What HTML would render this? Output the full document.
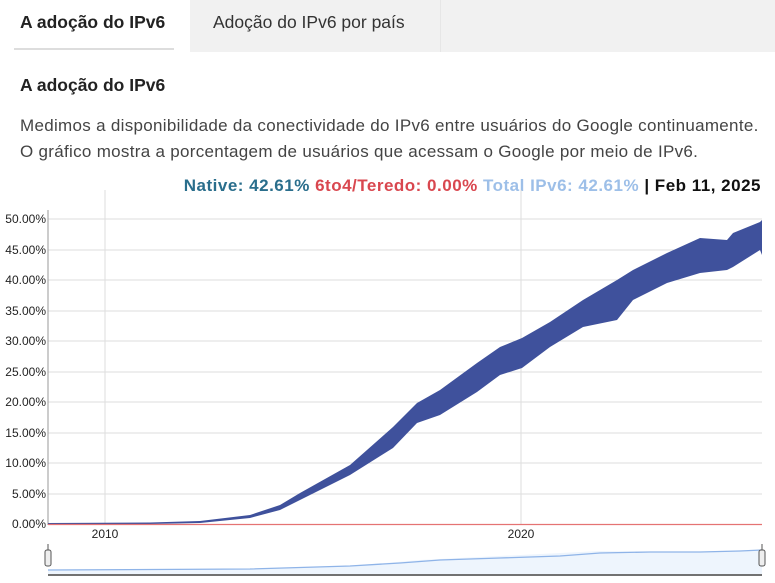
<!DOCTYPE html>
<html><head><meta charset="utf-8"><style>
body{margin:0;width:775px;height:583px;background:#fff;font-family:"Liberation Sans",sans-serif;overflow:hidden;position:relative}
.tabs{position:absolute;left:0;top:0;width:775px;height:52px;background:#f1f1f1}
.t1{position:absolute;left:0;top:0;width:190px;height:52px;background:#fff;font-size:17.5px;font-weight:bold;color:#222;line-height:44px;padding-left:20px;box-sizing:border-box;white-space:nowrap}
.t1 i{position:absolute;left:14px;right:16px;bottom:2px;height:2px;background:#ddd}
.t2{position:absolute;left:213px;top:0;font-size:17.5px;color:#333;line-height:44px}
.sep{position:absolute;left:440px;top:0;width:1px;height:52px;background:#e6e6e6}
h3{position:absolute;left:20px;top:75px;margin:0;font-size:17.5px;color:#222}
p{position:absolute;left:20px;top:113px;margin:0;font-size:17px;letter-spacing:0.3px;color:#444;line-height:26px;white-space:nowrap}
.leg{position:absolute;right:14px;top:176px;font-size:17px;letter-spacing:0.5px;font-weight:bold;white-space:nowrap}
</style></head><body>
<div class="tabs"><div class="t1">A adoção do IPv6<i></i></div><div class="t2">Adoção do IPv6 por país</div><div class="sep"></div></div>
<h3>A adoção do IPv6</h3>
<p>Medimos a disponibilidade da conectividade do IPv6 entre usuários do Google continuamente.<br>O gráfico mostra a porcentagem de usuários que acessam o Google por meio de IPv6.</p>
<div class="leg"><span style="color:#2a6e8c">Native: 42.61%</span> <span style="color:#d9474f">6to4/Teredo: 0.00%</span> <span style="color:#9dbfe8">Total IPv6: 42.61%</span> <span style="color:#111">| Feb 11, 2025</span></div>
<svg width="775" height="583" style="position:absolute;left:0;top:0" font-family="Liberation Sans" font-size="12" fill="#222">
<g stroke="#ddd" stroke-width="1">
<line x1="48" x2="762" y1="219" y2="219"/><line x1="48" x2="762" y1="250" y2="250"/><line x1="48" x2="762" y1="280" y2="280"/><line x1="48" x2="762" y1="311" y2="311"/><line x1="48" x2="762" y1="341" y2="341"/><line x1="48" x2="762" y1="372" y2="372"/><line x1="48" x2="762" y1="402" y2="402"/><line x1="48" x2="762" y1="433" y2="433"/><line x1="48" x2="762" y1="463" y2="463"/><line x1="48" x2="762" y1="494" y2="494"/>
<line x1="105" x2="105" y1="190" y2="524"/><line x1="521" x2="521" y1="190" y2="524"/>
</g>
<line x1="48" x2="48" y1="210" y2="525" stroke="#999"/>
<g text-anchor="end">
<text x="46" y="223">50.00%</text><text x="46" y="254">45.00%</text><text x="46" y="284">40.00%</text><text x="46" y="315">35.00%</text><text x="46" y="345">30.00%</text><text x="46" y="376">25.00%</text><text x="46" y="406">20.00%</text><text x="46" y="437">15.00%</text><text x="46" y="467">10.00%</text><text x="46" y="498">5.00%</text><text x="46" y="528">0.00%</text>
</g>
<text x="105" y="538" text-anchor="middle">2010</text><text x="521" y="538" text-anchor="middle">2020</text>
<polygon fill="#3f519c" points="48,523 150,522.5 200,521 250,515 280,505 300,493 350,465 393,427 417,403 440,390 477,363 500,347 522,338 550,322 583,300 617,280 633,270 667,253 700,238 727,240 733,233 760,222 762,220 762,255 760,250 733,267 727,270 700,273 667,283 633,300 617,320 583,327 550,347 522,368 500,375 477,392 440,415 417,423 393,448 350,475 300,500 280,510 250,518 200,523 150,524 48,524.5"/>
<line x1="48" x2="762" y1="524.5" y2="524.5" stroke="#e57373" stroke-width="1.2"/>
<polygon fill="#eef5fd" points="48,570 250,569 350,566 420,560 600,551 700,552 762,550 762,574 48,574"/>
<polyline fill="none" stroke="#8fb4e8" stroke-width="1.3" points="48,570 250,569 350,566 400,563 440,560 500,558 560,556 600,553 650,552 700,552 740,551 762,550"/>
<line x1="48" x2="762" y1="575" y2="575" stroke="#444" stroke-width="1.5"/>
<g fill="#eee" stroke="#555"><rect x="45" y="550" width="6" height="16" rx="2"/><rect x="759" y="550" width="6" height="16" rx="2"/></g>
<line x1="48" x2="48" y1="544" y2="550" stroke="#555"/><line x1="762" x2="762" y1="544" y2="550" stroke="#555"/>
</svg>
</body></html>
